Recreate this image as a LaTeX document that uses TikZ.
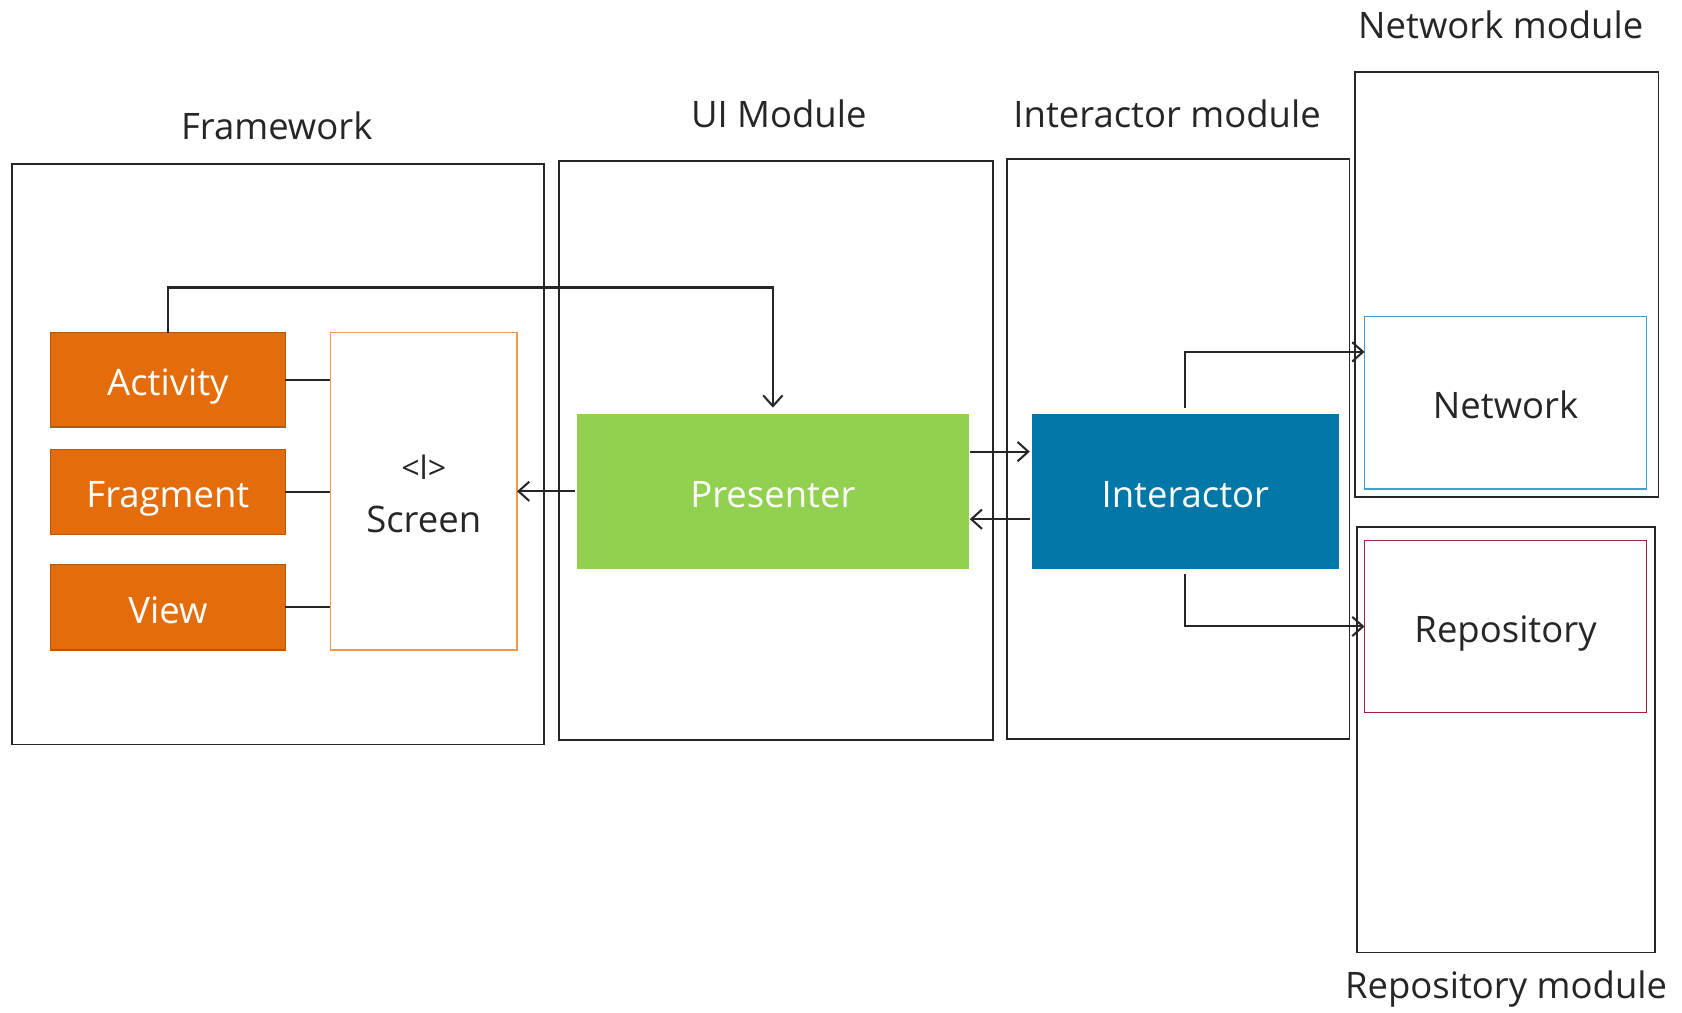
\documentclass[tikz,border=0pt]{standalone}
\usepackage{fontspec}
\setmainfont{Open Sans}
\usetikzlibrary{arrows.meta}
\definecolor{orfill}{HTML}{E46C0A}
\definecolor{ordraw}{HTML}{B65708}
\definecolor{orline}{HTML}{F79646}
\definecolor{grfill}{HTML}{92D050}
\definecolor{blfill}{HTML}{0077A6}
\definecolor{netline}{HTML}{3FA0CC}
\definecolor{repline}{HTML}{A3203F}
\definecolor{ink}{HTML}{262626}
\tikzset{
  box/.style={rectangle, inner sep=0pt, outer sep=0pt},
  module/.style={box, draw=ink, line width=0.8pt},
  boxtext/.style={font=\fontsize{17}{20}\selectfont, text height=15pt, text depth=0pt},
  orbox/.style={box, boxtext, fill=orfill, draw=ordraw, line width=0.6pt, text=white, minimum width=109.5pt},
  lbl/.style={font=\fontsize{17}{20}\selectfont, text=ink, inner sep=0pt},
  conn/.style={draw=ink, line width=0.95pt},
  arr/.style={conn, -{Straight Barb[length=5pt,width=9pt,line width=0.95pt]}},
}
\begin{document}
\begin{tikzpicture}[x=0.5pt,y=-0.5pt]
\useasboundingbox (0,0) rectangle (1568,944);
% modules
\node[module, minimum width=248pt, minimum height=270.5pt] (fw) at (259,423.5) {};
\node[module, minimum width=202.5pt, minimum height=270pt] (ui) at (723.5,420) {};
\node[module, minimum width=159.5pt, minimum height=270.5pt] (im) at (1098.5,418.5) {};
\node[module, minimum width=141.5pt, minimum height=198pt] (nm) at (1404.5,265) {};
\node[module, minimum width=139pt, minimum height=198.5pt] (rm) at (1404,689.5) {};
% module labels
\node[lbl] (fwl) at (258,117) {Framework};
\node[lbl] (uil) at (726,106) {UI Module};
\node[lbl] (iml) at (1088,106) {Interactor module};
\node[lbl] (nml) at (1399,23) {Network module};
\node[lbl] (rml) at (1404,922) {Repository module};
% framework content
\node[orbox, minimum height=44pt] (act) at (156.5,354) {Activity};
\node[orbox, minimum height=39.5pt] (frag) at (156.5,458.5) {Fragment};
\node[orbox, minimum height=40pt] (view) at (156.5,566) {View};
\node[box, draw=orline, line width=0.6pt, minimum width=87pt, minimum height=148pt] (scr) at (395,458) {};
\node[lbl, font=\fontsize{15}{16}\selectfont] (scrsym) at (395,436) {\textless l\textgreater};
\node[lbl] (scrtxt) at (395,484) {Screen};
% presenter / interactor
\node[box, boxtext, fill=grfill, minimum width=182.5pt, minimum height=72pt, text=white] (pres) at (720.5,458) {Presenter};
\node[box, boxtext, fill=blfill, minimum width=143pt, minimum height=72pt, text=white] (int) at (1105,458) {Interactor};
% network / repository
\node[box, boxtext, draw=netline, line width=0.7pt, minimum width=131.5pt, minimum height=80.5pt, text=ink] (net) at (1403.5,375.5) {Network};
\node[box, boxtext, draw=repline, line width=0.7pt, minimum width=131.5pt, minimum height=80pt, text=ink] (repo) at (1403.5,584) {Repository};
% connectors
\coordinate (top) at (720.5,268);
\draw[arr, shorten >=3pt] (act.north) |- (top) -- (pres.north);
\draw[conn] (act.east) -- (act.east -| scr.west);
\draw[conn] (frag.east) -- (frag.east -| scr.west);
\draw[conn] (view.east) -- (view.east -| scr.west);
\draw[arr, shorten <=1pt] (pres.west) -- (scr.east);
\draw[arr, shorten <=0.5pt, shorten >=1pt] ([yshift=18.5pt]pres.east) -- ([yshift=18.5pt]int.west);
\draw[arr, shorten <=1pt, shorten >=0.5pt] ([yshift=-13pt]int.west) -- ([yshift=-13pt]pres.east);
\draw[arr, shorten <=3pt] (int.north) |- ([yshift=23.75pt]net.west);
\draw[arr, shorten <=2.5pt] (int.south) |- (repo.west);
\end{tikzpicture}
\end{document}
